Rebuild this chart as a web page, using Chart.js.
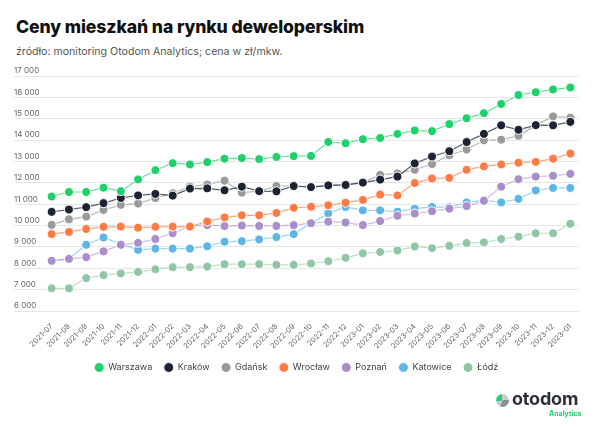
<!DOCTYPE html>
<html>
<head>
<meta charset="utf-8">
<script src="https://cdn.jsdelivr.net/npm/chart.js@4/dist/chart.umd.min.js"></script>
<style>
  html, body { margin: 0; padding: 0; background: #fff; }
  body { width: 600px; height: 427px; position: relative; overflow: hidden; font-family: Inter, sans-serif; }
  #title { position: absolute; left: 16px; top: 16px; font-size: 17.6px; font-weight: 800; color: #111; letter-spacing: -0.1px; }
  #subtitle { position: absolute; left: 16px; top: 45px; font-size: 10.6px; color: #555; }
  #wrap { position: absolute; left: 0; top: 0; width: 600px; height: 427px; }
  #logo { position: absolute; left: 496px; top: 392px; width: 90px; height: 30px; }
  #logo .icon { position: absolute; left: 0; top: 2px; width: 13px; height: 13px; border-radius: 50%;
    background: conic-gradient(#c9ccd1 0deg 90deg, #8a8f98 90deg 200deg, #c9ccd1 200deg 270deg, #1ed26e 270deg 360deg); }
  #logo .name { position: absolute; left: 16px; top: -4px; font-size: 18px; font-weight: 700; color: #2b2f36; letter-spacing: -0.2px; }
  #logo .sub { position: absolute; left: 53px; top: 17px; font-size: 7px; font-weight: 700; color: #1ed26e; }
</style>
</head>
<body>
<div id="title">Ceny mieszkań na rynku deweloperskim</div>
<div id="subtitle">źródło: monitoring Otodom Analytics; cena w zł/mkw.</div>
<div id="wrap"><canvas id="myChart"></canvas></div>
<div id="logo"><div class="icon"></div><div class="name">otodom</div><div class="sub">Analytics</div></div>
<script>
// months (the last label is written as in the source picture)
var months = ['2021-07', '2021-08', '2021-09', '2021-10', '2021-11', '2021-12',
    '2022-01', '2022-02', '2022-03', '2022-04', '2022-05', '2022-06', '2022-07', '2022-08', '2022-09',
    '2022-10', '2022-11', '2022-12', '2023-01', '2023-02', '2023-03', '2023-04', '2023-05', '2023-06',
    '2023-07', '2023-08', '2023-09', '2023-10', '2023-11', '2023-12', '2023-01'];

var warszawa = [11360, 11570, 11570, 11770, 11610, 12160, 12590, 12920, 12860, 12970, 13130, 13160, 13110, 13210, 13250,
    13260, 13910, 13850, 14040, 14100, 14290, 14450, 14420, 14750, 15020, 15260, 15690, 16110, 16240, 16370, 16460];
var krakow = [10640, 10750, 10860, 11050, 11290, 11410, 11480, 11400, 11730, 11740, 11650, 11820, 11610, 11600, 11850,
    11800, 11880, 11900, 12010, 12150, 12290, 12910, 13230, 13480, 13910, 14290, 14690, 14480, 14700, 14690, 14850];
var gdansk = [10030, 10290, 10420, 10730, 10970, 11030, 11290, 11510, 11825, 11920, 12100, 11540, 11610, 11850, 11850,
    11800, 11880, 11900, 12010, 12370, 12440, 12610, 12880, 13290, 13560, 13990, 14020, 14200, 14700, 15110, 15050];
var wroclaw = [9600, 9700, 9840, 9940, 9950, 9900, 9940, 9950, 9950, 10190, 10380, 10480, 10480, 10590, 10830,
    10880, 10950, 11070, 11200, 11450, 11410, 11990, 12200, 12230, 12610, 12770, 12860, 12940, 12980, 13130, 13370];
var poznan = [8350, 8440, 8520, 8790, 9100, 9190, 9370, 9640, 9980, 10020, 9980, 10000, 9980, 9980, 10020,
    10110, 10180, 10140, 10020, 10210, 10460, 10560, 10670, 10790, 10910, 11160, 11820, 12170, 12290, 12330, 12420];
var katowice = [8350, 8440, 9100, 9440, 9130, 8860, 8920, 8920, 8920, 9030, 9240, 9270, 9350, 9460, 9600,
    10110, 10570, 10870, 10710, 10710, 10650, 10790, 10870, 10860, 11080, 11190, 11080, 11250, 11640, 11760, 11760];
var lodz = [7060, 7060, 7540, 7680, 7760, 7830, 7950, 8050, 8050, 8080, 8190, 8190, 8190, 8160, 8160,
    8220, 8330, 8490, 8700, 8760, 8830, 9020, 8940, 9050, 9180, 9210, 9370, 9480, 9640, 9640, 10080];

var cities = ['Warszawa', 'Kraków', 'Gdańsk', 'Wrocław', 'Poznań', 'Katowice', 'Łódź'];
var series = [warszawa, krakow, gdansk, wroclaw, poznan, katowice, lodz];
var colors = ['#1fd16c', '#1c2333', '#9a9a9a', '#ff7b45', '#aa8dcb', '#5db6e6', '#90c6a6'];
var lineColors = ['rgba(31,209,108,0.7)', 'rgba(28,35,51,0.75)', 'rgba(154,154,154,0.7)', 'rgba(255,123,69,0.7)',
    'rgba(170,141,203,0.6)', 'rgba(93,182,230,0.6)', 'rgba(144,198,166,0.6)'];

var yTicks = function (v) {
    return String(v).replace(/\B(?=(\d{3})+(?!\d))/g, ' ');
};

var datasets = cities.map(function (name, i) {
    return {
        label: name,
        data: series[i],
        borderColor: lineColors[i],
        backgroundColor: colors[i],
        pointBackgroundColor: colors[i],
        pointBorderColor: '#fff',
        pointBorderWidth: 1,
        pointRadius: 4.5,
        borderWidth: 1.2,
        tension: 0
    };
});

var ctx = document.getElementById('myChart').getContext('2d');
var chart = new Chart(ctx, {
    type: 'line',
    data: {
        labels: months,
        datasets: datasets
    },
    options: {
        responsive: true,
        maintainAspectRatio: false,
        animation: false,
        layout: {
            padding: { left: 14, top: 76, right: 21, bottom: 45 }
        },
        plugins: {
            title: { display: false },
            tooltip: { enabled: false },
            legend: {
                position: 'bottom',
                labels: {
                    usePointStyle: true,
                    pointStyle: 'circle',
                    boxHeight: 7,
                    padding: 12,
                    color: '#444',
                    font: { family: 'Inter', size: 9 }
                }
            }
        },
        scales: {
            x: {
                offset: true,
                grid: { display: false },
                border: { display: false },
                ticks: {
                    autoSkip: false,
                    minRotation: 45,
                    maxRotation: 45,
                    padding: 3,
                    color: '#666',
                    font: { family: 'Inter', size: 7.5 }
                },
                afterFit: function (scale) { scale.height = 40; }
            },
            y: {
                min: 6000,
                max: 17000,
                border: { display: false },
                grid: { color: '#e6e6e6', tickColor: '#e6e6e6', tickLength: 29 },
                ticks: {
                    stepSize: 1000,
                    crossAlign: 'far',
                    labelOffset: -5,
                    padding: 0,
                    color: '#666',
                    font: { family: 'Inter', size: 8 },
                    callback: yTicks
                },
                afterFit: function (scale) { scale.width = 29; }
            }
        }
    }
});
</script>
</body>
</html>
